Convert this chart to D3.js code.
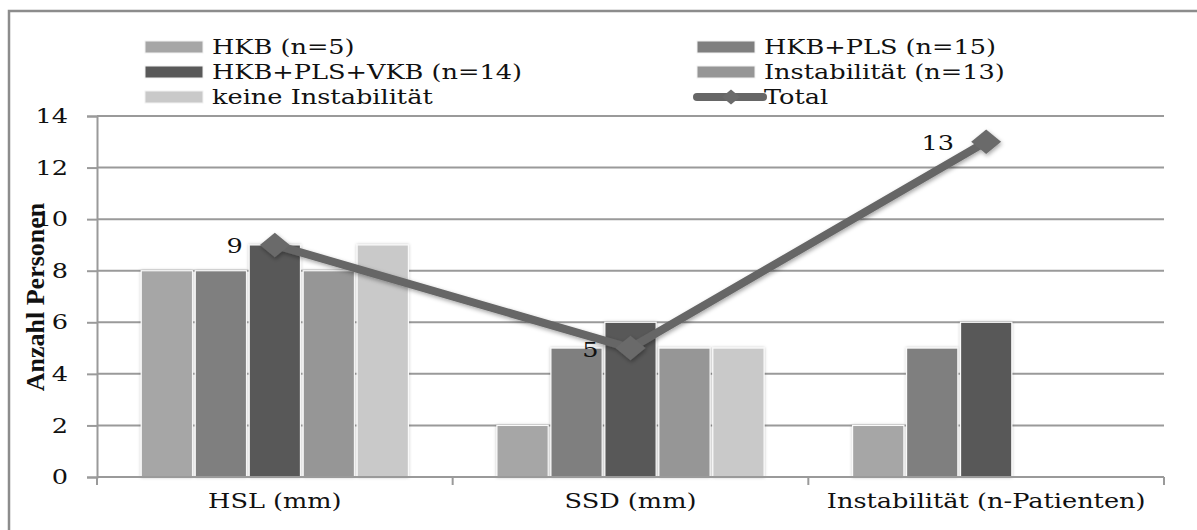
<!DOCTYPE html>
<html>
<head>
<meta charset="utf-8">
<script src="https://cdn.jsdelivr.net/npm/d3@7"></script>
<style>
  html, body { margin: 0; padding: 0; background: #fff; }
  svg { display: block; }
</style>
</head>
<body>
<div id="chart"></div>
<script>
// Categories on the x axis
const categories = ["HSL (mm)", "SSD (mm)", "Instabilität (n-Patienten)"];

// Bar series (one value per category)
const seriesNames = ["HKB (n=5)", "HKB+PLS (n=15)", "HKB+PLS+VKB (n=14)", "Instabilität (n=13)", "keine Instabilität"];
const hkb        = [8, 2, 2];
const hkbPls     = [8, 5, 5];
const hkbPlsVkb  = [9, 6, 6];
const instab     = [8, 5, 0];
const keineInst  = [9, 5, 0];

// Line series
const totalName = "Total";
const total = [9, 5, 13];

// Y axis ticks
const yTicks = [0, 2, 4, 6, 8, 10, 12, 14];
const yTitle = "Anzahl Personen";

const seriesColors = ["#a6a6a6", "#7f7f7f", "#595959", "#969696", "#c9c9c9"];
const lineColor = "#666666";

const W = 1197, H = 530;
const SX = 1.22;              // horizontal stretch of the text face
const FONT = "'DejaVu Serif', serif";
const FS = 21;

const svg = d3.select("#chart").append("svg")
  .attr("width", W).attr("height", H);

const defs = svg.append("defs");
const sh = defs.append("filter").attr("id", "shadow")
  .attr("x", "-20%").attr("y", "-20%").attr("width", "140%").attr("height", "140%");
sh.append("feDropShadow").attr("dx", 1).attr("dy", 2).attr("stdDeviation", 2)
  .attr("flood-color", "#000").attr("flood-opacity", 0.35);
const gl = defs.append("filter").attr("id", "glow")
  .attr("x", "-20%").attr("y", "-10%").attr("width", "140%").attr("height", "120%");
gl.append("feDropShadow").attr("dx", 0).attr("dy", 0).attr("stdDeviation", 1.6)
  .attr("flood-color", "#000").attr("flood-opacity", 0.25);

// outer frame
svg.append("rect")
  .attr("x", 9).attr("y", 11).attr("width", 1300).attr("height", 600)
  .attr("fill", "none").attr("stroke", "#8c8c8c").attr("stroke-width", 2.5);

const plot = { left: 97, right: 1164, top: 116, bottom: 477 };

const x0 = d3.scaleBand().domain(categories).range([plot.left, plot.right]);
const x1 = d3.scaleBand().domain(seriesNames).range([0, x0.bandwidth()])
  .paddingInner(0.05).paddingOuter(0.82);
const y = d3.scaleLinear().domain([0, 14]).range([plot.bottom, plot.top]);

// stretched text helper
function stretchedText(g, x, yy, str, opts = {}) {
  return g.append("text")
    .attr("transform", `translate(${x},${yy}) scale(${SX},1)`)
    .attr("text-anchor", opts.anchor || "start")
    .attr("dominant-baseline", opts.baseline || "central")
    .attr("font-family", FONT)
    .attr("font-size", opts.size || FS)
    .attr("fill", "#111")
    .text(str);
}

// gridlines
const grid = svg.append("g");
grid.selectAll("line").data(yTicks.filter(d => d > 0)).join("line")
  .attr("x1", plot.left).attr("x2", plot.right)
  .attr("y1", d => y(d)).attr("y2", d => y(d))
  .attr("stroke", "#9a9a9a").attr("stroke-width", 2);

// y axis
const yAxis = d3.axisLeft(y).tickValues(yTicks).tickSize(10).tickFormat("");
const yg = svg.append("g").attr("transform", `translate(${plot.left},0)`).call(yAxis);
yg.select(".domain").attr("stroke", "#9a9a9a").attr("stroke-width", 2);
yg.selectAll(".tick line").attr("stroke", "#9a9a9a").attr("stroke-width", 2);
yTicks.forEach(t => stretchedText(svg, 68, y(t), String(t), { anchor: "end" }));

// y title (condensed bold face, no stretch)
svg.append("text")
  .attr("transform", `translate(35,297) rotate(-90)`)
  .attr("text-anchor", "middle")
  .attr("dominant-baseline", "central")
  .attr("font-family", "'Liberation Serif', 'Times New Roman', serif")
  .attr("font-weight", "bold")
  .attr("font-size", 26)
  .attr("fill", "#111")
  .text(yTitle);

// bars
const seriesValues = [hkb, hkbPls, hkbPlsVkb, instab, keineInst];
const barData = [];
categories.forEach((c, ci) => {
  seriesNames.forEach((s, si) => {
    barData.push({ cat: c, series: s, value: seriesValues[si][ci], color: seriesColors[si] });
  });
});
svg.append("g").selectAll("rect").data(barData.filter(d => d.value > 0)).join("rect")
  .attr("x", d => x0(d.cat) + x1(d.series))
  .attr("y", d => y(d.value))
  .attr("width", x1.bandwidth())
  .attr("height", d => y(0) - y(d.value))
  .attr("fill", d => d.color)
  .attr("stroke", "#fafafa").attr("stroke-width", 1.2)
  .attr("filter", "url(#glow)");

// x axis
const xAxisLine = svg.append("g");
xAxisLine.append("line")
  .attr("x1", plot.left).attr("x2", plot.right)
  .attr("y1", y(0)).attr("y2", y(0))
  .attr("stroke", "#9a9a9a").attr("stroke-width", 2);
const boundaries = categories.map(c => x0(c)).concat([x0(categories[categories.length - 1]) + x0.bandwidth()]);
xAxisLine.selectAll("line.tk").data(boundaries).join("line").attr("class", "tk")
  .attr("x1", d => d).attr("x2", d => d)
  .attr("y1", y(0)).attr("y2", y(0) + 8)
  .attr("stroke", "#9a9a9a").attr("stroke-width", 2);
categories.forEach(c => stretchedText(svg, x0(c) + x0.bandwidth() / 2, 501, c, { anchor: "middle" }));

// total line
const cx = c => x0(c) + x0.bandwidth() / 2;
const lineGen = d3.line().x((d, i) => cx(categories[i])).y(d => y(d));
const lg = svg.append("g").attr("filter", "url(#shadow)");
lg.append("path").datum(total)
  .attr("d", lineGen)
  .attr("fill", "none").attr("stroke", lineColor).attr("stroke-width", 8)
  .attr("stroke-linejoin", "miter");
const diamond = d3.symbol().type(d3.symbolSquare).size(300);
lg.selectAll("path.mk").data(total).join("path").attr("class", "mk")
  .attr("d", diamond)
  .attr("transform", (d, i) => `translate(${cx(categories[i])},${y(d)}) scale(${SX},1) rotate(45)`)
  .attr("fill", "#6b6b6b");

// value labels
total.forEach((v, i) => {
  stretchedText(svg, cx(categories[i]) - 32, y(v) + (i === 1 ? 2 : 1), String(v), { anchor: "end" });
});

// legend
const legendItems = seriesNames.map((s, i) => ({ name: s, color: seriesColors[i], type: "bar" }))
  .concat([{ name: totalName, color: lineColor, type: "line" }]);
const legendCols = [145, 697];
const legendRow0 = 47, legendRowH = 25;
legendItems.forEach((it, i) => {
  const lx = legendCols[i % 2];
  const ly = legendRow0 + Math.floor(i / 2) * legendRowH;
  if (it.type === "bar") {
    svg.append("rect")
      .attr("x", lx).attr("y", ly - 6).attr("width", 58).attr("height", 12)
      .attr("fill", it.color).attr("stroke", "#f2f2f2").attr("stroke-width", 1);
  } else {
    svg.append("line")
      .attr("x1", lx).attr("x2", lx + 66).attr("y1", ly).attr("y2", ly)
      .attr("stroke", it.color).attr("stroke-width", 8).attr("stroke-linecap", "round");
    svg.append("path").attr("d", d3.symbol().type(d3.symbolSquare).size(110))
      .attr("transform", `translate(${lx + 34},${ly}) scale(${SX},1) rotate(45)`)
      .attr("fill", "#6b6b6b");
  }
  stretchedText(svg, lx + 67, ly, it.name);
});
</script>
</body>
</html>
